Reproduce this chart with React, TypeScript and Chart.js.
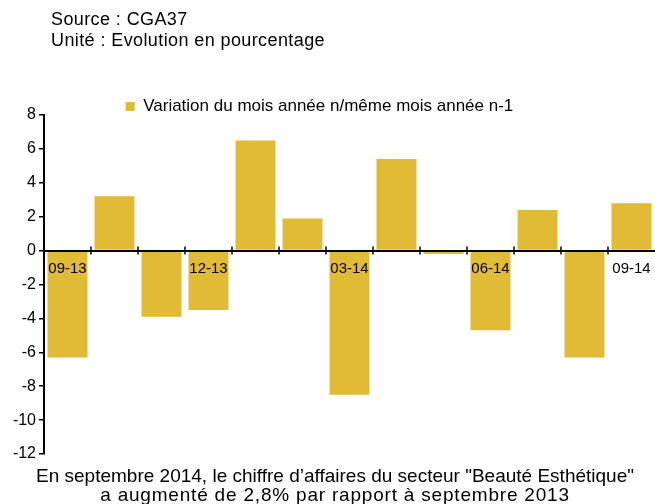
import React, { useEffect, useRef } from "react";
import { Chart, registerables } from "chart.js";

Chart.register(...registerables);

const months = ["09-13", "10-13", "11-13", "12-13", "01-14", "02-14", "03-14", "04-14", "05-14", "06-14", "07-14", "08-14", "09-14"];
const variation = [-6.3, 3.2, -3.9, -3.5, 6.5, 1.9, -8.5, 5.4, -0.2, -4.7, 2.4, -6.3, 2.8];
const seriesLabel = "Variation du mois année n/même mois année n-1";
const headerLines = ["Source : CGA37", "Unité : Evolution en pourcentage"];
const footerLines = [
  "En septembre 2014, le chiffre d\u2019affaires du secteur \"Beauté Esthétique\"",
  "a augmenté de 2,8% par rapport à septembre 2013",
];
const footerSpacing = ["0px", "0.8px"];

const FONT = "'Liberation Sans', Arial, sans-serif";
const BAR = "#E1BA36";

const crossTicks = {
  id: "crossTicks",
  afterLayout(chart: any) {
    if (chart.legend) {
      chart.legend.top += 10;
      chart.legend.bottom += 10;
    }
  },
  afterDraw(chart: any) {
    const x = chart.scales.x;
    const y = chart.scales.y;
    const y0 = y.getPixelForValue(0);
    const ctx = chart.ctx;
    ctx.save();
    ctx.strokeStyle = "#000";
    ctx.lineWidth = 1.5;
    for (let i = 1; i < months.length; i++) {
      const px = (x.getPixelForValue(i - 1) + x.getPixelForValue(i)) / 2;
      ctx.beginPath();
      ctx.moveTo(px, y0 - 4);
      ctx.lineTo(px, y0 + 4);
      ctx.stroke();
    }
    ctx.restore();
  },
};

export default function App() {
  const ref = useRef<HTMLCanvasElement | null>(null);
  useEffect(() => {
    if (!ref.current) return;
    const chart = new Chart(ref.current, {
      type: "bar",
      data: {
        labels: months,
        datasets: [
          {
            label: seriesLabel,
            data: variation,
            backgroundColor: BAR,
            borderWidth: 0,
            barPercentage: 0.85,
            categoryPercentage: 1,
          },
        ],
      },
      options: {
        animation: false,
        responsive: false,
        maintainAspectRatio: false,
        layout: { padding: { left: 0, right: 0, top: 88, bottom: 50 } },
        plugins: {
          tooltip: { enabled: false },
          legend: {
            position: "top",
            labels: {
              boxWidth: 9,
              boxHeight: 9,
              color: "#000",
              font: { family: FONT, size: 17 },
              padding: 0,
            },
          },
        },
        scales: {
          x: {
            type: "category",
            position: { y: 0 },
            grid: { display: false },
            border: { display: true, color: "#000", width: 2, z: 1 },
            ticks: {
              z: 1,
              autoSkip: false,
              maxRotation: 0,
              color: "#000",
              font: { family: FONT, size: 15 },
              padding: 1,
              callback: (_v: any, i: number) => (i % 3 === 0 ? months[i] : ""),
            },
          },
          y: {
            min: -12,
            max: 8,
            afterFit: (s: any) => {
              s.width = 60;
            },
            grid: { drawOnChartArea: false, tickLength: 5, color: "#000", lineWidth: 1.5 },
            border: { display: true, color: "#000", width: 2 },
            ticks: {
              stepSize: 2,
              color: "#000",
              padding: 3,
              font: { family: FONT, size: 16 },
            },
          },
        },
      },
      plugins: [crossTicks],
    });
    return () => chart.destroy();
  }, []);

  return (
    <div style={{ position: "absolute", left: 0, top: 0, width: 655, height: 504, overflow: "hidden", background: "#fff", fontFamily: FONT }}>
      <canvas ref={ref} width={671} height={504} style={{ position: "absolute", left: -16, top: 0, width: 671, height: 504 }} />
      <div style={{ position: "absolute", left: 51, top: 9, fontSize: 18, lineHeight: "21px", color: "#000", whiteSpace: "nowrap", letterSpacing: "0.4px" }}>
        {headerLines.map((l) => (
          <div key={l}>{l}</div>
        ))}
      </div>
      <div style={{ position: "absolute", left: 0, width: 670, top: 466, textAlign: "center", fontSize: 19, lineHeight: "19px", color: "#000", whiteSpace: "nowrap" }}>
        {footerLines.map((l, i) => (
          <div key={l} style={{ letterSpacing: footerSpacing[i] }}>{l}</div>
        ))}
      </div>
    </div>
  );
}
